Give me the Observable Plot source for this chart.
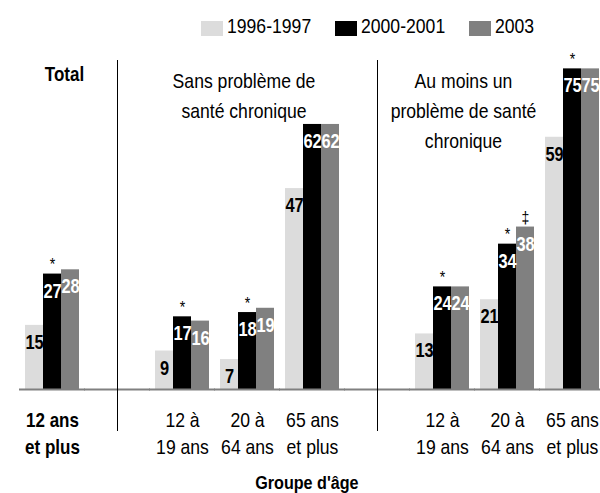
<!DOCTYPE html>
<html>
<head>
<meta charset="utf-8">
<script src="https://cdn.jsdelivr.net/npm/d3@7"></script>
<script src="https://cdn.jsdelivr.net/npm/@observablehq/plot@0.6"></script>
<style>
  body { margin: 0; background: #fff; font-family: "Liberation Sans", Arial, sans-serif; }
  #legend { height: 45px; position: relative; font-size: 20px; line-height: 20px; color: #000; }
  #legend .sw { position: absolute; top: 21px; width: 22px; height: 15px; }
  #legend .lab { position: absolute; top: 16px; white-space: nowrap; transform: scaleX(0.88); transform-origin: left center; }
</style>
</head>
<body>
<div id="legend"></div>
<div id="chart"></div>
<script>
const FONT = '"Liberation Sans", Arial, sans-serif';

const series = ["1996-1997", "2000-2001", "2003"];
const colors = ["#dcdcdc", "#000000", "#808080"];
const groups = ["Total 12+", "Sans 12-19", "Sans 20-64", "Sans 65+", "Avec 12-19", "Avec 20-64", "Avec 65+"];
const v1996 = [15, 9, 7, 47, 13, 21, 59];
const v2000 = [27, 17, 18, 62, 24, 34, 75];
const v2003 = [28, 16, 19, 62, 24, 38, 75];
const sig1996 = ["", "", "", "", "", "", ""];
const sig2000 = ["*", "*", "*", "", "*", "*", "*"];
const sig2003 = ["", "", "", "", "", "\u2021", ""];
const tickLabels = ["12 ans\net plus", "12 à\n19 ans", "20 à\n64 ans", "65 ans\net plus", "12 à\n19 ans", "20 à\n64 ans", "65 ans\net plus"];
const sections = ["Total", "Sans problème de\nsanté chronique", "Au moins un\nproblème de santé\nchronique"];
const xTitle = "Groupe d'âge";
const gaps = ["gap1", "gap2"];

const valuesBySeries = [v1996, v2000, v2003];
const sigsBySeries = [sig1996, sig2000, sig2003];
const rows = [];
groups.forEach((g, i) => {
  series.forEach((s, j) => {
    rows.push({group: g, series: s, value: valuesBySeries[j][i], sig: sigsBySeries[j][i]});
  });
});
const fxDomain = [groups[0], gaps[0], groups[1], groups[2], groups[3], gaps[1], groups[4], groups[5], groups[6]];
const ticks = groups.map((g, i) => ({group: g, label: tickLabels[i]}));

// legend (HTML, above the SVG)
const legendLeft = [201, 335, 469];
const legend = document.getElementById("legend");
series.forEach((s, j) => {
  const sw = document.createElement("div");
  sw.className = "sw";
  sw.style.left = legendLeft[j] + "px";
  sw.style.background = colors[j];
  const t = document.createElement("span");
  t.className = "lab";
  t.style.left = (legendLeft[j] + 26) + "px";
  t.textContent = s;
  legend.appendChild(sw); legend.appendChild(t);
});

const mid = () => series[1];
const plot = Plot.plot({
  width: 600,
  height: 448,
  marginLeft: 23,
  marginRight: 0,
  marginTop: 2,
  marginBottom: 104,
  style: {fontFamily: FONT, fontSize: "20px", background: "white", color: "black"},
  fx: {domain: fxDomain, paddingInner: 0.142, paddingOuter: 0, axis: null, label: null},
  x: {domain: series, padding: 0, axis: null},
  y: {domain: [0, 80], axis: null},
  color: {domain: series, range: colors},
  marks: [
    Plot.barY(rows, {fx: "group", x: "series", y: "value", fill: "series"}),
    Plot.ruleY([0], {stroke: "#808080", strokeWidth: 2, insetLeft: -5, insetRight: -5}),
    Plot.ruleX(gaps, {fx: d => d, x: mid, stroke: "#000", strokeWidth: 1, insetTop: 13, insetBottom: -42}),
    // values
    Plot.text(rows.filter(d => d.series === series[0]), {fx: "group", x: "series", y: "value", text: d => String(d.value), fill: "black", fontWeight: "bold", fontSize: 20.5, lineAnchor: "top", dy: 9}),
    Plot.text(rows.filter(d => d.series !== series[0]), {fx: "group", x: "series", y: "value", text: d => String(d.value), fill: "white", fontWeight: "bold", fontSize: 20.5, lineAnchor: "top", dy: 9}),
    // significance marks
    Plot.text(rows.filter(d => d.sig), {fx: "group", x: "series", y: "value", text: "sig", fontSize: 16, lineAnchor: "bottom", dy: -4}),
    // tick labels
    Plot.text(ticks.slice(0, 1), {fx: "group", x: mid, text: "label", frameAnchor: "bottom", lineAnchor: "top", dy: 18, lineHeight: 1.36, fontWeight: "bold", fontSize: 20}),
    Plot.text(ticks.slice(1), {fx: "group", x: mid, text: "label", frameAnchor: "bottom", lineAnchor: "top", dy: 18, lineHeight: 1.36, fontSize: 20}),
    // section headers
    Plot.text([sections[0]], {fx: () => groups[0], x: mid, text: d => d, frameAnchor: "top", lineAnchor: "top", dy: 19, dx: 12, fontWeight: "bold", fontSize: 20}),
    Plot.text([sections[1]], {fx: () => groups[2], x: mid, text: d => d, frameAnchor: "top", lineAnchor: "top", dy: 19, dx: -3.5, lineHeight: 1.5, fontSize: 20}),
    Plot.text([sections[2]], {fx: () => groups[5], x: mid, text: d => d, frameAnchor: "top", lineAnchor: "top", dy: 19, dx: -44, lineHeight: 1.5, fontSize: 20}),
    // x title
    Plot.text([xTitle], {fx: () => groups[3], x: mid, text: d => d, frameAnchor: "bottom", lineAnchor: "top", dy: 86, dx: -5.6, fontWeight: "bold", fontSize: 19})
  ]
});

// the original uses a condensed typeface: narrow the glyphs horizontally around each text's anchor
plot.querySelectorAll("text").forEach(t => {
  const g = t.closest("g");
  const bold = g && g.getAttribute("font-weight") === "bold";
  const size = g ? parseFloat(g.getAttribute("font-size")) : 20;
  const k = bold ? (size > 20 ? 0.8 : 0.85) : 0.88;
  const x = parseFloat(t.getAttribute("x") || "0");
  const tr = t.getAttribute("transform") || "";
  t.setAttribute("transform", `${tr} translate(${x},0) scale(${k},1) translate(${-x},0)`);
});
document.getElementById("chart").appendChild(plot);
</script>
</body>
</html>
